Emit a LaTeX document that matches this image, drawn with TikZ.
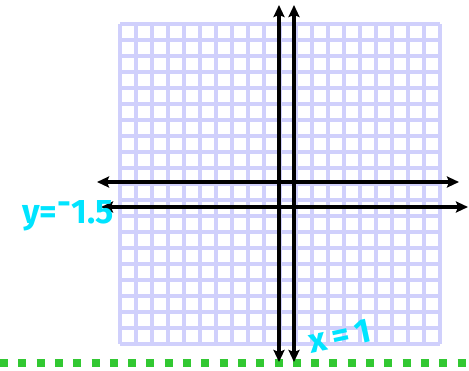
\documentclass[tikz,border=0pt]{standalone}
\usepackage{fontspec}
\setsansfont{Fira Sans}
\usetikzlibrary{arrows.meta, positioning}
\definecolor{gridlav}{RGB}{208, 208, 252}
\definecolor{penblue}{RGB}{0, 228, 255}
\definecolor{dashgreen}{RGB}{50, 200, 50}
\tikzset{
    gridline/.style={gridlav, line width=3.6pt},
    axis/.style={{Stealth[length=12pt, width=11pt, inset=2pt]}-{Stealth[length=12pt, width=11pt, inset=2pt]}, line width=3.4pt, black},
    pen/.style={penblue, font=\sffamily\bfseries\fontsize{34}{34}\selectfont, inner sep=0pt},
    boundary/.style={dashgreen, line width=8pt, dash pattern=on 8pt off 10.3pt}
}
\begin{document}
\begin{tikzpicture}[x=1pt, y=-1pt]
    \useasboundingbox (0,0) rectangle (469,370);

    % grid paper
    \foreach \k in {0,...,20} {
        \draw[gridline] ({120+16*\k},24) -- ({120+16*\k},344);
        \draw[gridline] (120,{24+16*\k}) -- (440,{24+16*\k});
    }

    % dashed boundary
    \coordinate (gleft) at (0,363);
    \coordinate (gright) at (469,363);
    \draw[boundary] (gleft) -- (gright);

    % axes
    \coordinate (atop) at (279,5);
    \coordinate (abot) at (279,362);
    \coordinate (btop) at (294,5);
    \coordinate (bbot) at (294,362);
    \coordinate (aleft) at (97,182);
    \coordinate (aright) at (459,182);
    \coordinate (bleft) at (101,207);
    \coordinate (bright) at (468,207);
    \draw[axis] (abot) -- (atop);
    \draw[axis] (bbot) -- (btop);
    \draw[axis] (aleft) -- (aright);
    \draw[axis] (bleft) -- (bright);

    % labels
    \node[pen, anchor=west] (ylabel) at (22,216) {y=\raisebox{0.5ex}{-}1.5};
    \node[pen, rotate=12] (xlabel) at (340,336) {x\,=\,1};
\end{tikzpicture}
\end{document}
